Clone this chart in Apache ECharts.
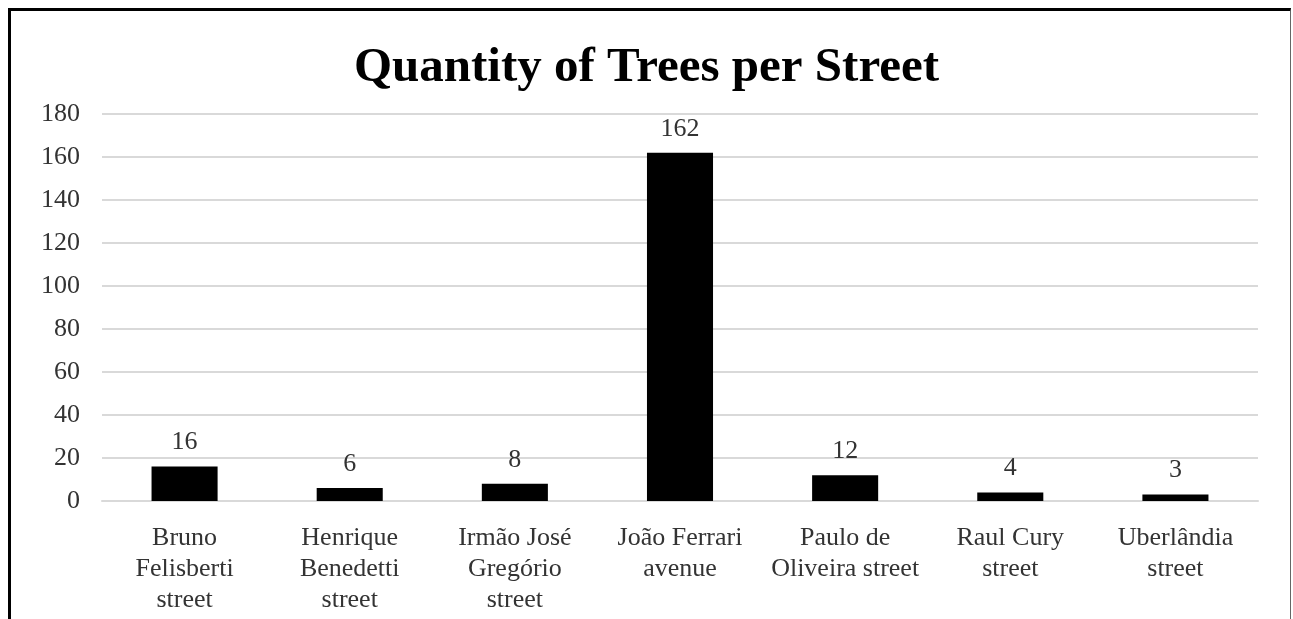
<!DOCTYPE html>
<html>
<head>
<meta charset="utf-8">
<script src="https://cdn.jsdelivr.net/npm/echarts@6/dist/echarts.min.js"></script>
<style>
  html, body { margin: 0; padding: 0; background: #fff; }
  #wrap { position: relative; width: 1293px; height: 619px; overflow: hidden; }
  #chart { position: absolute; left: 0; top: 0; width: 1293px; height: 619px; }
  #frame {
    position: absolute; left: 8px; top: 8px; width: 1279px; height: 640px;
    border-left: 3px solid #000; border-top: 3px solid #000; border-right: 1px solid #666;
    pointer-events: none;
  }
</style>
</head>
<body>
<div id="wrap">
  <div id="chart"></div>
  <div id="frame"></div>
</div>
<script>
// Street names (line breaks as printed under each bar)
const streets = [
  'Bruno\nFelisberti\nstreet',
  'Henrique\nBenedetti\nstreet',
  'Irmão José\nGregório\nstreet',
  'João Ferrari\navenue',
  'Paulo de\nOliveira street',
  'Raul Cury\nstreet',
  'Uberlândia\nstreet'
];
// Number of trees counted on each street
const treeCounts = [16, 6, 8, 162, 12, 4, 3];
// Value axis range
const yMin = 0, yMax = 180, yStep = 20;

const font = '"Liberation Serif", "Times New Roman", serif';
const chart = echarts.init(document.getElementById('chart'), null, { renderer: 'canvas' });
chart.setOption({
  animation: false,
  backgroundColor: '#fff',
  title: {
    text: 'Quantity of Trees per Street',
    left: 'center',
    top: 39,
    textStyle: { fontFamily: font, fontSize: 49, fontWeight: 'bold', color: '#000' }
  },
  grid: { left: 102, right: 35, top: 114, bottom: 118, containLabel: false },
  xAxis: {
    type: 'category',
    data: streets,
    axisLine: { show: true, lineStyle: { color: '#d9d9d9', width: 2 } },
    axisTick: { show: false },
    axisLabel: {
      interval: 0, margin: 22, color: '#333',
      fontFamily: font, fontSize: 26, lineHeight: 31
    }
  },
  yAxis: {
    type: 'value',
    min: yMin, max: yMax, interval: yStep,
    axisLine: { show: false },
    axisTick: { show: false },
    splitLine: { lineStyle: { color: '#d9d9d9', width: 2 } },
    axisLabel: { margin: 22, color: '#333', fontFamily: font, fontSize: 26 }
  },
  series: [{
    type: 'bar',
    data: treeCounts,
    barWidth: '40%',
    itemStyle: { color: '#000' },
    label: {
      show: true, position: 'top', distance: 11,
      color: '#333', fontFamily: font, fontSize: 26
    }
  }]
});
</script>
</body>
</html>
